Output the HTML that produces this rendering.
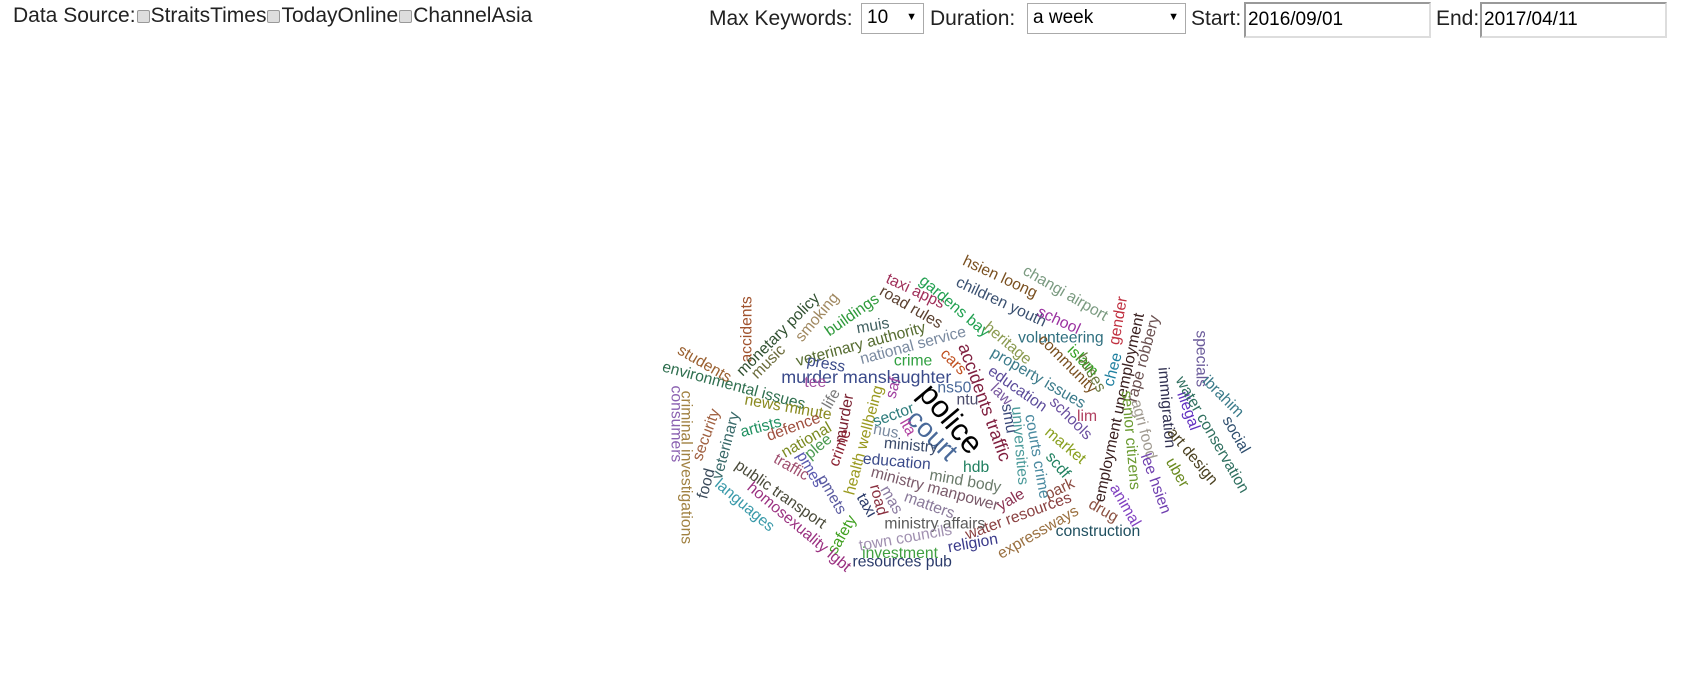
<!DOCTYPE html>
<html><head><meta charset="utf-8">
<style>
body{margin:0;width:1695px;height:675px;background:#fff;font-family:"Liberation Sans",sans-serif;overflow:hidden;position:relative}
.hdr{position:absolute;font-size:21px;color:#222;top:4px}
.cb{display:inline-block;width:11px;height:11px;border:1px solid #999;background:#ddd;border-radius:2px;vertical-align:middle;margin:0 1px}
.sel{position:absolute;top:3px;height:31px;border:1px solid #aaa;background:#fff;font-size:19px;box-sizing:border-box;padding:3px 5px}
.sel span.ar{position:absolute;right:6px;top:7px;font-size:11px}
.inp{position:absolute;top:2px;height:36px;width:187px;border:2px solid #ddd;border-top-color:#999;border-left-color:#999;box-sizing:border-box;font-size:19px;padding:5px 2px}
svg{position:absolute;left:0;top:0}
</style></head><body>
<div class="hdr" style="left:13px">Data Source:<span class="cb"></span>StraitsTimes<span class="cb"></span>TodayOnline<span class="cb"></span>ChannelAsia</div>
<div class="hdr" style="left:709px;top:7px">Max Keywords:</div>
<div class="sel" style="left:861px;width:63px">10<span class="ar">▼</span></div>
<div class="hdr" style="left:930px;top:7px">Duration:</div>
<div class="sel" style="left:1027px;width:159px">a week<span class="ar">▼</span></div>
<div class="hdr" style="left:1191px;top:7px">Start:</div>
<div class="inp" style="left:1244px">2016/09/01</div>
<div class="hdr" style="left:1436px;top:7px">End:</div>
<div class="inp" style="left:1480px">2017/04/11</div>
<svg id="cloud" width="1695" height="675"></svg>
<script>
const words=["accidents","monetary policy","smoking","music","buildings","veterinary authority","muis","taxi apps","road rules","gardens bay","hsien loong","children youth","changi airport","school","heritage","volunteering","community","islam","buses","chee","gender","employment unemployment","rape robbery","senior citizens","agri food","lee hsien","immigration","art design","uber","illegal","water conservation","specials","ibrahim","social","animal","drug","construction","expressways","water resources","park","yale","scdf","market","schools","courts crime","universities","lim","property issues","education","law","smu","accidents traffic","cars","national service","press","crime","murder manslaughter","ns50","ntu","police","court","tee","saf","environmental issues","students","consumers","criminal investigations","security","veterinary","food","news minute","life","murder","health wellbeing","artists","defence","national","plee","crime","sector","lta","nus","ministry","education","hdb","mind body","ministry manpower","matters","mas","road","taxi","ministry affairs","town councils","investment","resources pub","religion","safety","pmets","pmes","traffic","public transport","homosexuality lgbt","languages"];
const weights=[14,14,14,14,14,14,14,14,14,14,14,14,14,14,14,14,14,14,14,14,14,14,14,14,14,14,14,14,14,14,14,14,14,14,14,14,14,14,14,14,14,14,14,14,14,14,14,14,14,14,14,16,14,14,14,14,16,14,14,28,24,14,14,14,14,14,14,14,14,14,14,14,14,14,14,14,14,14,14,14,14,14,14,14,14,14,14,14,14,14,14,14,14,14,14,14,14,14,14,14,14,14,14];
const cx=[687,716,752,707,784,792,803,842,838,878,920,921,980,974,927,976,982,996,1004,1024,1029,1030,1052,1040,1052,1063,1073,1097,1083,1093,1115,1105,1125,1137,1035,1015,1010,955,937,975,930,973,980,985,954,938,1000,955,936,921,928,906,877,840,760,840,797,878,890,875,858,750,822,675,648,622,631,650,668,650,725,765,777,795,700,730,742,753,773,822,835,815,838,825,898,888,860,855,820,808,797,860,833,828,830,895,775,765,745,728,718,735,685];
const cy=[303,308,292,333,290,317,300,268,283,282,255,278,270,295,316,311,335,332,343,340,295,375,330,405,395,445,375,420,435,378,400,330,365,400,465,470,489,490,475,450,460,428,410,385,420,410,383,348,358,363,385,370,333,318,335,332,347,357,368,385,400,352,357,355,335,390,430,400,410,445,375,367,385,405,393,393,405,411,412,382,393,397,410,425,430,443,450,465,460,460,465,482,495,509,517,500,492,455,432,430,455,485,465];
const rot=[-90,-45,-50,-45,-35,-15,-10,25,30,40,25,25,30,25,40,0,45,45,60,-75,-80,-78,-75,85,75,70,85,50,60,70,60,90,45,60,60,30,0,-30,-20,-25,-30,50,40,45,80,85,0,30,35,45,80,70,45,-15,10,0,0,0,0,50,45,0,-75,15,30,90,90,-70,-75,-75,10,-60,-80,-75,-15,-20,-30,-40,-70,-20,60,10,5,5,0,10,15,20,60,75,60,0,-10,0,0,-10,-60,60,60,30,35,40,40];
const colors=["#a0522d","#2f4f2f","#a08860","#6b6b3a","#2e9a3a","#556b2f","#3f5f5f","#a0305a","#5a4030","#20a050","#7a5020","#3a5070","#7a9a80","#9a30a0","#8a9a50","#2f6f7f","#7a5020","#30a020","#6a7a40","#2080a0","#c03040","#3a2020","#6a5050","#6a9a30","#a09a90","#7040b0","#303050","#4a4020","#6a8a20","#6030c0","#2f6f5f","#6a5a9a","#3a7a8a","#2f4f6f","#8040c0","#8a5040","#1f4f5f","#9a7040","#8a4040","#8a4a40","#8a3050","#208060","#8aa020","#6a50a0","#4a8aa0","#4a9a9a","#b04060","#3a7a8a","#5a4a9a","#7a5aa0","#3a4a7a","#802040","#c05020","#7a8aa0","#3a4a8a","#30a040","#3a4a8a","#4a6a9a","#4a4a6a","#000000","#4a6a9a","#a050a0","#a040a0","#2f6f4f","#9a6030","#8a60b0","#a08040","#a06040","#3a6a6a","#3a4a5a","#8a8a20","#7a7a7a","#7a2030","#9a9a20","#209060","#a05040","#7a8a20","#4a9a50","#8a2030","#2a7a7a","#b040a0","#7a8aa0","#3a4a6a","#3a4a8a","#208060","#6a7a6a","#7a5a6a","#8a7a9a","#8a7aa0","#8a3040","#2a3a6a","#5a5a5a","#a090b0","#40a040","#2a3a6a","#3a3a8a","#40a020","#5a5aa0","#5a5ab0","#a05070","#4a4a3a","#9a3080","#3a9aaa"];
const S=1.087;
const svg=document.getElementById('cloud');
const NS='http://www.w3.org/2000/svg';
for(let i=0;i<words.length;i++){
  const t=document.createElementNS(NS,'text');
  
  
  t.setAttribute('text-anchor','middle');
  t.setAttribute('dominant-baseline','central');
  t.setAttribute('font-size',(weights[i]*S+0.5).toFixed(1));
  t.setAttribute('fill',colors[i]);
  const x=cx[i]*S,y=cy[i]*S;
  t.setAttribute('transform','translate('+x.toFixed(1)+','+y.toFixed(1)+') rotate('+rot[i]+')');
  t.textContent=words[i];
  svg.appendChild(t);
}
</script>
</body></html>
